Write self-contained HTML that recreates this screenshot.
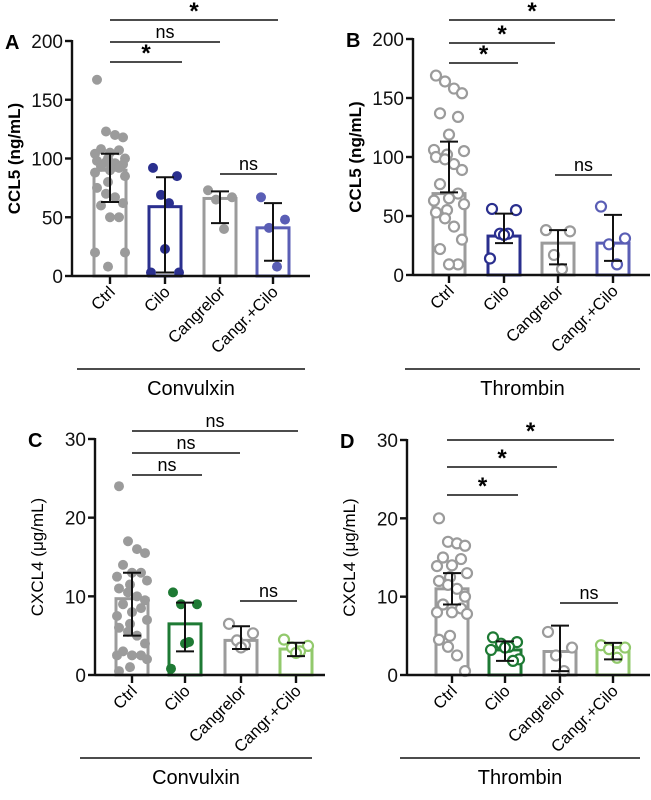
<!DOCTYPE html>
<html><head><meta charset="utf-8">
<style>
body{margin:0;background:#fff;}
svg{display:block;font-family:"Liberation Sans",Arial,sans-serif;}
</style></head>
<body>
<svg id="fig" width="651" height="800" viewBox="0 0 651 800"></svg>
<script>
const categories = ["Ctrl","Cilo","Cangrelor","Cangr.+Cilo"];
// Panel A
const aMeans = [90,59,66,41];
const aErrLo = [63,3,45,13];
const aErrHi = [104,84,72,62];
const aPts = [
 [167,123,120,118,108,107,105,104,100,100,98,97,96,95,93,92,90,88,85,80,75,70,67,62,60,50,50,20,20,8],
 [92,85,69,62,23,3,3],[73,67,65,40],[67,48,41,8]];
// Panel B
const bMeans = [69,33,27,27];
const bErrLo = [70,27,9,12];
const bErrHi = [113,52,38,51];
const bPts = [
 [169,164,158,154,137,134,119,106,105,102,100,98,94,89,77,69,65,63,60,55,53,48,41,30,22,9,9],
 [56,55,35,35,34,14],[38,37,17,5],[58,31,26,9]];
// Panel C
const cMeans = [9.7,6.5,4.4,3.3];
const cErrLo = [5,3,3.3,2.4];
const cErrHi = [13,9.2,6.2,4.1];
const cPts = [
 [24,17,16,15.5,14,13,13,12.5,12,11.5,11,10.5,10,9.5,9,8.5,8,7.5,7,6.5,6,5.5,5,4,3,2.5,2.5,2.5,2,1,0.5],
 [10.5,9,9,4.2,4,0.8],[6.5,5.3,4.4,3.8,3.5],[4.5,3.7,3.5,3,2.8]];
// Panel D
const dMeans = [11,3.2,3,3.5];
const dErrLo = [9,1.8,0.5,2];
const dErrHi = [13,4.3,6.3,4.1];
const dPts = [
 [20,17,16.8,16.5,15,14.8,14,13.9,13,12.5,12,11.5,11,10,9,8.5,8,8,7.8,5,4.5,3.6,2.5,0.5],
 [4.8,4.2,4,3.6,3.5,3.2,2,1.8],[5.5,3.5,2.5,0.5],[3.8,3.5,3.3,2.2]];
const ccl5Ticks = [0,50,100,150,200];
const cxcl4Ticks = [0,10,20,30];
const aSig = ["*","ns","*","ns"];
const bSig = ["*","*","*","ns"];
const cSig = ["ns","ns","ns","ns"];
const dSig = ["*","*","*","ns"];

const NS="http://www.w3.org/2000/svg";
const svg=document.getElementById('fig');
function mk(tag,attrs,parent,text){const e=document.createElementNS(NS,tag);for(const k in attrs)e.setAttribute(k,attrs[k]);if(text!==undefined)e.textContent=text;(parent||svg).appendChild(e);return e;}

function panel(cfg){
  const g=mk('g',{});
  
  
  const y=v=>cfg.y0-(v/cfg.ymax)*(cfg.y0-cfg.ytop);
  const x=i=>cfg.centers[i];
  const bw=35;
  const L=mk('text',{x:cfg.ax-67,y:cfg.ytop+8,'font-size':20,'font-weight':'bold'},g,cfg.letter);
  
  const t=mk('text',{x:0,y:0,'font-size':17,'font-weight':cfg.bold?'bold':'normal','text-anchor':'middle',transform:`translate(${cfg.ax-52},${(cfg.y0+cfg.ytop)/2}) rotate(-90)`},g,cfg.ytitle);
  
  cfg.means.forEach((m,i)=>{
    const col=cfg.colors[i];
    const b=mk('rect',{x:x(i)-bw/2+1.5,y:y(m),width:bw-3,height:cfg.y0-y(m),fill:'#fff',stroke:col,'stroke-width':3},g);
    
    
    const pts=cfg.pts[i];
    pts.forEach((v,j)=>{
      const n=pts.length;
      const spread = n>10 ? [-13,-4,5,13,-9,9,0,-15,15,-2][j%10] : [-12,12,-4,4,0,-14,14,8][j%8];
      const c=mk('circle',{cx:x(i)+spread,cy:y(v),r:5,fill:cfg.open[i]?'#fff':col,stroke:col,'stroke-width':cfg.open[i]?2.2:0},g);
      
      
    });
    const eg=mk('g',{stroke:'#111','stroke-width':2},g);
    
    mk('line',{x1:x(i),x2:x(i),y1:y(cfg.lo[i]),y2:y(cfg.hi[i])},eg);
    mk('line',{x1:x(i)-9,x2:x(i)+9,y1:y(cfg.lo[i]),y2:y(cfg.lo[i])},eg);
    mk('line',{x1:x(i)-9,x2:x(i)+9,y1:y(cfg.hi[i]),y2:y(cfg.hi[i])},eg);
  });
  const ax=mk('g',{stroke:'#111','stroke-width':2.4},g);
  
  mk('line',{x1:cfg.ax,x2:cfg.ax,y1:cfg.ytop-1,y2:cfg.y0},ax);
  mk('line',{x1:cfg.ax,x2:cfg.xend,y1:cfg.y0,y2:cfg.y0},ax);
  cfg.ticks.forEach(v=>{
    mk('line',{x1:cfg.ax-7,x2:cfg.ax,y1:y(v),y2:y(v)},ax);
    const tl=mk('text',{x:cfg.ax-9,y:y(v)+7,'font-size':19,'text-anchor':'end',fill:'#111',stroke:'none'},g,String(v));
    
  });
  categories.forEach((c,i)=>{
    mk('line',{x1:x(i),x2:x(i),y1:cfg.y0,y2:cfg.y0+8},ax);
    const tl=mk('text',{x:0,y:0,'font-size':16.5,'text-anchor':'end',transform:`translate(${x(i)+6},${cfg.y0+17}) rotate(-45)`},g,c);
    
  });
  const gline=mk('line',{x1:cfg.gx1,x2:cfg.gx2,y1:cfg.gy,y2:cfg.gy,stroke:'#111','stroke-width':1.5},g);
  
  
  const gl=mk('text',{x:(cfg.gx1+cfg.gx2)/2,y:cfg.gy+26,'font-size':20,'text-anchor':'middle'},g,cfg.group);
  
  cfg.sig.forEach((s,k)=>{
    const [x1,x2,yy]=cfg.sigPos[k];
    const sg=mk('g',{},g);
    
    mk('line',{x1:x1,x2:x2,y1:yy,y2:yy,stroke:'#111','stroke-width':1.6},sg);
    mk('text',{x:(x1+x2)/2,y:s==='*'?yy-1:yy-4,'font-size':s==='*'?24:18,'text-anchor':'middle','font-weight':s==='*'?'bold':'normal'},sg,s);
  });
}
const gray='#9b9b9b',navy='#2a2f8e',blue='#5a5eb5',dgreen='#1e7a34',lgreen='#92c96c';
panel({letter:'A',ax:72,y0:276,ytop:41,ymax:200,xend:310,centers:[110,165,220,273],means:aMeans,lo:aErrLo,hi:aErrHi,pts:aPts,
  colors:[gray,navy,gray,blue],open:[false,false,false,false],ticks:ccl5Ticks,ytitle:'CCL5 (ng/mL)',bold:true,
  gx1:77,gx2:305,gy:369,group:'Convulxin',sig:aSig,sigPos:[[110,278,20],[110,220,42],[110,182,62],[220,277,174]]});
panel({letter:'B',ax:413,y0:275,ytop:39,ymax:200,xend:650,centers:[449,504,558,613],means:bMeans,lo:bErrLo,hi:bErrHi,pts:bPts,
  colors:[gray,navy,gray,blue],open:[true,true,true,true],ticks:ccl5Ticks,ytitle:'CCL5 (ng/mL)',bold:true,
  gx1:405,gx2:640,gy:369,group:'Thrombin',sig:bSig,sigPos:[[449,615,20],[449,555,43],[449,518,63],[555,612,175]]});
panel({letter:'C',ax:95,y0:675,ytop:439,ymax:30,xend:325,centers:[132,185,241,296],means:cMeans,lo:cErrLo,hi:cErrHi,pts:cPts,
  colors:[gray,dgreen,gray,lgreen],open:[false,false,true,true],ticks:cxcl4Ticks,ytitle:'CXCL4 (\u03bcg/mL)',bold:false,
  gx1:80,gx2:312,gy:758,group:'Convulxin',sig:cSig,sigPos:[[132,298,431],[132,240,453],[132,202,475],[240,297,601]]});
panel({letter:'D',ax:407,y0:675,ytop:440,ymax:30,xend:650,centers:[452,505,560,613],means:dMeans,lo:dErrLo,hi:dErrHi,pts:dPts,
  colors:[gray,dgreen,gray,lgreen],open:[true,true,true,true],ticks:cxcl4Ticks,ytitle:'CXCL4 (\u03bcg/mL)',bold:false,
  gx1:400,gx2:640,gy:758,group:'Thrombin',sig:dSig,sigPos:[[447,614,440],[447,557,467],[447,518,495],[560,618,603]]});
</script>
</body></html>
